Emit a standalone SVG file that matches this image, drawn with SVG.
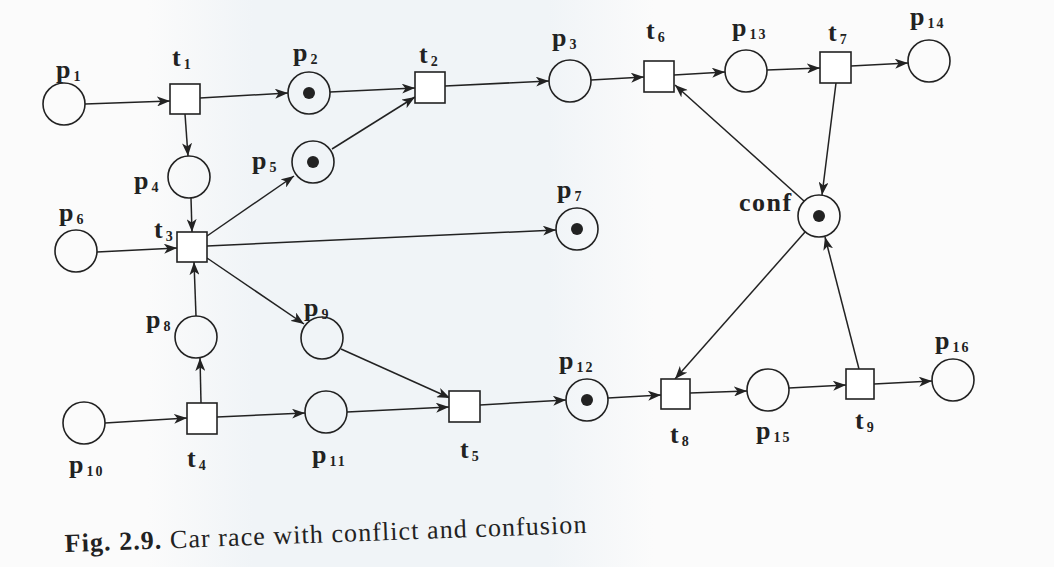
<svg xmlns="http://www.w3.org/2000/svg" width="1054" height="567" viewBox="0 0 1054 567">
<style>
.pl{fill:none;stroke:#222;stroke-width:1.6}
.tr{fill:#fff;stroke:#222;stroke-width:1.6}
.tok{fill:#222}
.arc{fill:none;stroke:#222;stroke-width:1.5;marker-end:url(#ah)}
.lb{font-family:"Liberation Serif","Times New Roman",serif;font-weight:bold;font-size:26px;fill:#222}
.s{font-size:14px;letter-spacing:2px}
.cap{font-family:"Liberation Serif","Times New Roman",serif;font-size:26px;fill:#222}
</style>
<defs>
<marker id="ah" markerUnits="userSpaceOnUse" markerWidth="14" markerHeight="10" refX="13" refY="5" orient="auto">
<path d="M0,0 L13,5 L0,10 L3.5,5 z" fill="#222"/>
</marker>
<linearGradient id="bg" x1="0" y1="0" x2="1" y2="0">
<stop offset="0" stop-color="#fbfbfb"/>
<stop offset="0.14" stop-color="#fbfbfb"/>
<stop offset="0.24" stop-color="#f0f4f7"/>
<stop offset="0.52" stop-color="#f0f4f7"/>
<stop offset="0.62" stop-color="#fbfbfb"/>
<stop offset="1" stop-color="#fbfbfb"/>
</linearGradient>
</defs>
<rect x="0" y="0" width="1054" height="567" fill="url(#bg)"/>

<g id="connectors">
<line class="arc" x1="85" y1="104" x2="170" y2="101"/>
<line class="arc" x1="200" y1="98" x2="288" y2="93"/>
<line class="arc" x1="185" y1="114" x2="188" y2="156"/>
<line class="arc" x1="330" y1="92" x2="415" y2="88"/>
<line class="arc" x1="332" y1="149" x2="415" y2="97"/>
<line class="arc" x1="191" y1="198" x2="192" y2="232"/>
<line class="arc" x1="97" y1="252" x2="177" y2="248"/>
<line class="arc" x1="207" y1="236" x2="294" y2="176"/>
<line class="arc" x1="207" y1="246" x2="556" y2="230"/>
<line class="arc" x1="207" y1="258" x2="304" y2="324"/>
<line class="arc" x1="196" y1="316" x2="194" y2="262"/>
<line class="arc" x1="201" y1="403" x2="200" y2="358"/>
<line class="arc" x1="105" y1="423" x2="187" y2="418"/>
<line class="arc" x1="217" y1="417" x2="305" y2="413"/>
<line class="arc" x1="347" y1="412" x2="449" y2="407"/>
<line class="arc" x1="341" y1="349" x2="450" y2="398"/>
<line class="arc" x1="480" y1="405" x2="566" y2="400"/>
<line class="arc" x1="445" y1="86" x2="549" y2="81"/>
<line class="arc" x1="591" y1="80" x2="644" y2="77"/>
<line class="arc" x1="674" y1="75" x2="725" y2="72"/>
<line class="arc" x1="767" y1="70" x2="820" y2="68"/>
<line class="arc" x1="851" y1="66" x2="908" y2="63"/>
<line class="arc" x1="836" y1="83" x2="822" y2="195"/>
<line class="arc" x1="804" y1="201" x2="675" y2="85"/>
<line class="arc" x1="805" y1="232" x2="675" y2="379"/>
<line class="arc" x1="608" y1="398" x2="661" y2="395"/>
<line class="arc" x1="690" y1="393" x2="747" y2="391"/>
<line class="arc" x1="789" y1="388" x2="846" y2="385"/>
<line class="arc" x1="859" y1="369" x2="825" y2="237"/>
<line class="arc" x1="874" y1="384" x2="932" y2="381"/>
</g>

<g id="p1"><circle class="pl" cx="64" cy="104" r="21"/><text class="lb" x="56" y="78">p<tspan class="s" dx="3" dy="3">1</tspan></text></g>
<g id="p2"><circle class="pl" cx="309" cy="93" r="21"/><circle class="tok" cx="309" cy="93" r="6"/><text class="lb" x="293" y="61">p<tspan class="s" dx="3" dy="3">2</tspan></text></g>
<g id="p3"><circle class="pl" cx="570" cy="81" r="21"/><text class="lb" x="552" y="46">p<tspan class="s" dx="3" dy="3">3</tspan></text></g>
<g id="p4"><circle class="pl" cx="189" cy="177" r="21"/><text class="lb" x="134" y="189">p<tspan class="s" dx="3" dy="3">4</tspan></text></g>
<g id="p5"><circle class="pl" cx="313" cy="162" r="21"/><circle class="tok" cx="313" cy="162" r="6"/><text class="lb" x="252" y="169">p<tspan class="s" dx="3" dy="3">5</tspan></text></g>
<g id="p6"><circle class="pl" cx="76" cy="251" r="21"/><text class="lb" x="59" y="221">p<tspan class="s" dx="3" dy="3">6</tspan></text></g>
<g id="p7"><circle class="pl" cx="577" cy="229" r="21"/><circle class="tok" cx="577" cy="229" r="6"/><text class="lb" x="557" y="198">p<tspan class="s" dx="3" dy="3">7</tspan></text></g>
<g id="p8"><circle class="pl" cx="196" cy="337" r="21"/><text class="lb" x="146" y="328">p<tspan class="s" dx="3" dy="3">8</tspan></text></g>
<g id="p9"><circle class="pl" cx="322" cy="338" r="21"/><text class="lb" x="304" y="316">p<tspan class="s" dx="3" dy="3">9</tspan></text></g>
<g id="p10"><circle class="pl" cx="84" cy="423" r="21"/><text class="lb" x="69" y="473">p<tspan class="s" dx="3" dy="3">10</tspan></text></g>
<g id="p11"><circle class="pl" cx="326" cy="412" r="21"/><text class="lb" x="312" y="463">p<tspan class="s" dx="3" dy="3">11</tspan></text></g>
<g id="p12"><circle class="pl" cx="587" cy="400" r="21"/><circle class="tok" cx="587" cy="400" r="6"/><text class="lb" x="559" y="369">p<tspan class="s" dx="3" dy="3">12</tspan></text></g>
<g id="p13"><circle class="pl" cx="746" cy="71" r="21"/><text class="lb" x="732" y="36">p<tspan class="s" dx="3" dy="3">13</tspan></text></g>
<g id="p14"><circle class="pl" cx="929" cy="61" r="21"/><text class="lb" x="910" y="25">p<tspan class="s" dx="3" dy="3">14</tspan></text></g>
<g id="p15"><circle class="pl" cx="768" cy="390" r="21"/><text class="lb" x="756" y="439">p<tspan class="s" dx="3" dy="3">15</tspan></text></g>
<g id="p16"><circle class="pl" cx="953" cy="380" r="21"/><text class="lb" x="935" y="349">p<tspan class="s" dx="3" dy="3">16</tspan></text></g>
<g id="conf"><circle class="pl" cx="819" cy="216" r="21"/><circle class="tok" cx="819" cy="216" r="6"/><text class="lb" x="739" y="211" font-size="23" letter-spacing="1.5">conf</text></g>

<g id="t1"><rect class="tr" x="170" y="84" width="30" height="30"/><text class="lb" x="172" y="66">t<tspan class="s" dx="3" dy="3">1</tspan></text></g>
<g id="t2"><rect class="tr" x="415" y="72" width="30" height="31"/><text class="lb" x="419" y="63">t<tspan class="s" dx="3" dy="3">2</tspan></text></g>
<g id="t3"><rect class="tr" x="177" y="232" width="30" height="30"/><text class="lb" x="154" y="238">t<tspan class="s" dx="3" dy="3">3</tspan></text></g>
<g id="t4"><rect class="tr" x="187" y="403" width="30" height="31"/><text class="lb" x="187" y="467">t<tspan class="s" dx="3" dy="3">4</tspan></text></g>
<g id="t5"><rect class="tr" x="449" y="391" width="31" height="31"/><text class="lb" x="460" y="458">t<tspan class="s" dx="3" dy="3">5</tspan></text></g>
<g id="t6"><rect class="tr" x="644" y="61" width="30" height="31"/><text class="lb" x="646" y="39">t<tspan class="s" dx="3" dy="3">6</tspan></text></g>
<g id="t7"><rect class="tr" x="820" y="52" width="31" height="31"/><text class="lb" x="828" y="41">t<tspan class="s" dx="3" dy="3">7</tspan></text></g>
<g id="t8"><rect class="tr" x="661" y="379" width="29" height="30"/><text class="lb" x="670" y="443">t<tspan class="s" dx="3" dy="3">8</tspan></text></g>
<g id="t9"><rect class="tr" x="846" y="369" width="28" height="30"/><text class="lb" x="855" y="429">t<tspan class="s" dx="3" dy="3">9</tspan></text></g>

<g id="caption"><text class="cap" x="65" y="552" transform="rotate(-2.1 65 552)" textLength="522" lengthAdjust="spacing"><tspan font-weight="bold">Fig. 2.9.</tspan> Car race with conflict and confusion</text></g>
</svg>
